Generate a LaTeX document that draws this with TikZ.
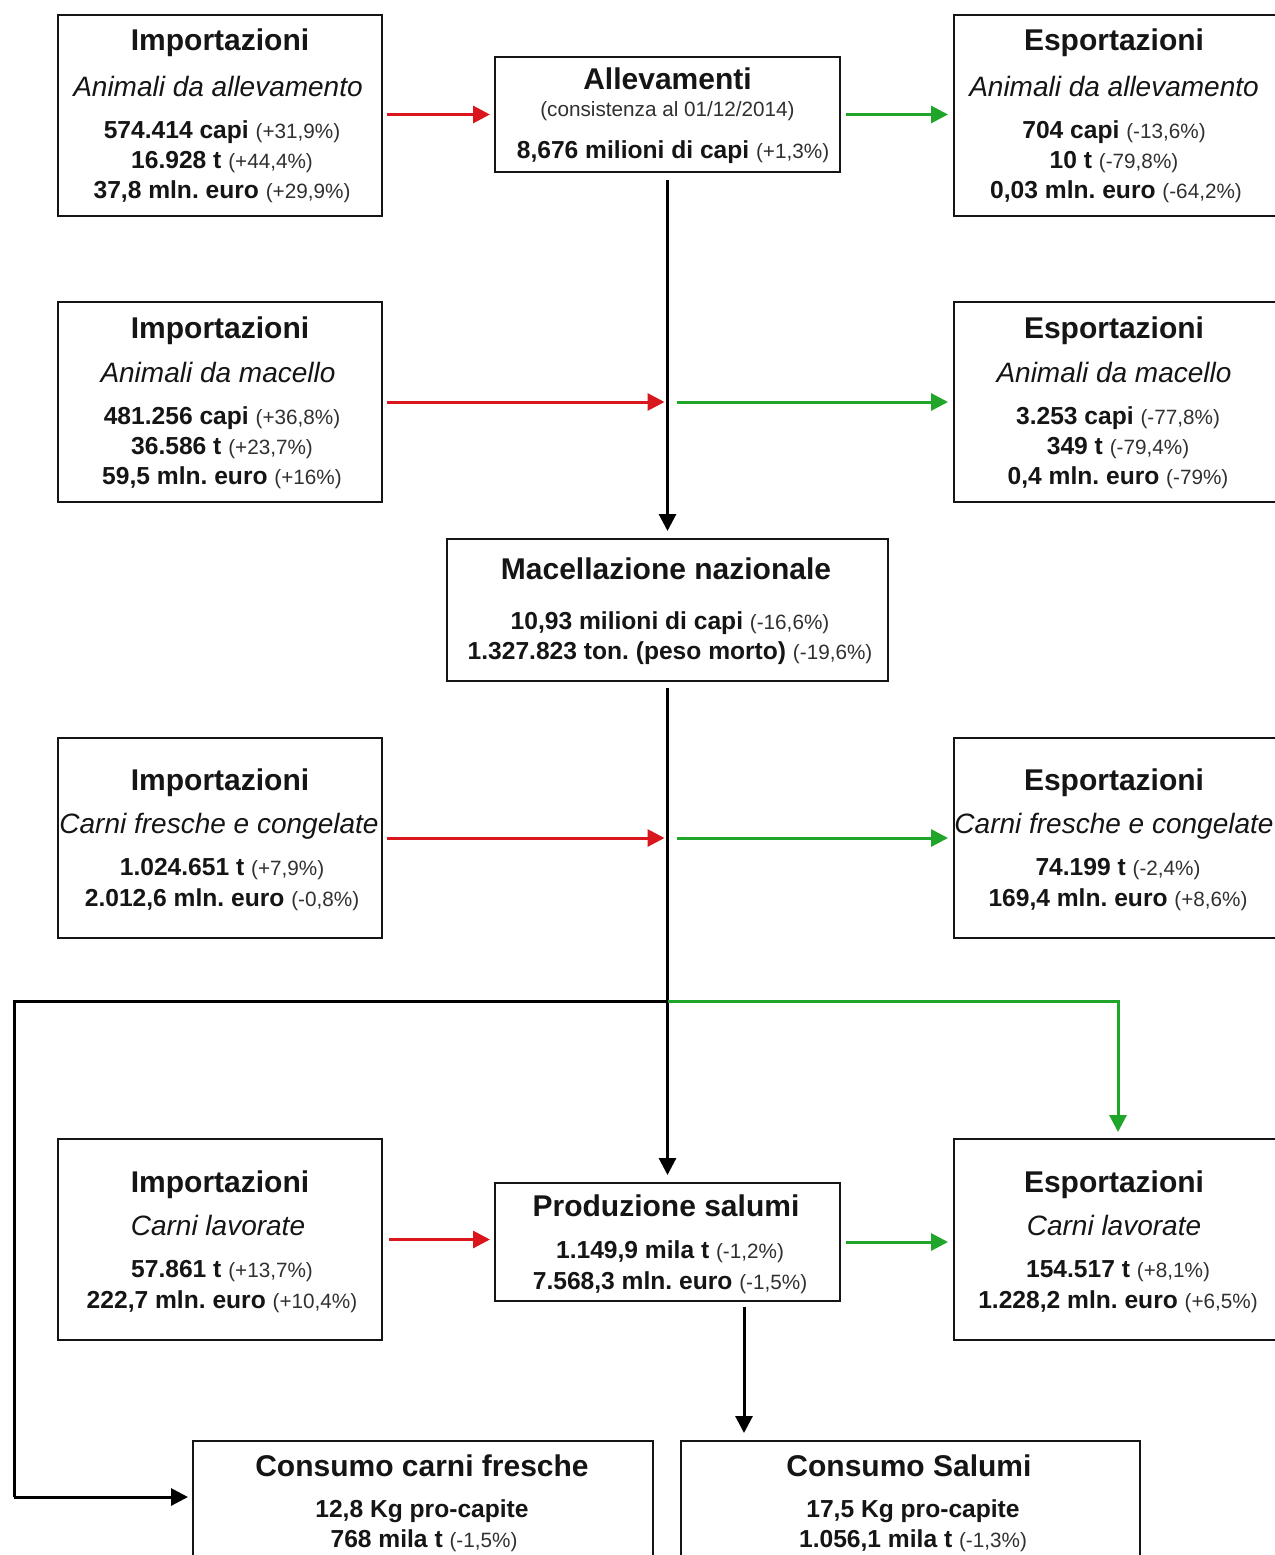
\documentclass[tikz,border=0pt]{standalone}
\usepackage{fontspec}
\setmainfont{Liberation Sans}
\usetikzlibrary{arrows.meta}
\definecolor{redA}{HTML}{D9161C}
\definecolor{greenA}{HTML}{1FA52A}
\definecolor{txtc}{HTML}{151515}
\definecolor{pctc}{HTML}{303030}
\newcommand\ttlf{\fontsize{30}{36}\selectfont\bfseries}
\newcommand\itlf{\fontsize{28}{34}\selectfont\itshape}
\newcommand\bnumf{\fontsize{24.6}{30}\selectfont\bfseries}
\newcommand\smallf{\fontsize{20.7}{25}\selectfont\mdseries}
\newcommand\pct[1]{{\smallf\color{pctc}#1}}
\frenchspacing
\begin{document}
\begin{tikzpicture}[x=1pt,y=-1pt,
  boxst/.style={draw=txtc, line width=2pt, fill=white, inner sep=0pt, outer sep=0pt},
  txt/.style={anchor=base, inner sep=0pt, outer sep=0pt, text=txtc, font=\frenchspacing},
  tipst/.style={-{Triangle[length=17pt,width=17pt]}},
  redarr/.style={draw=redA, line width=3pt, tipst},
  grnarr/.style={draw=greenA, line width=3pt, tipst},
  blkarr/.style={draw=black, line width=3pt, tipst},
  blkline/.style={draw=black, line width=3pt},
  grnline/.style={draw=greenA, line width=3pt}]
\path[use as bounding box, fill=white] (0,0) rectangle (1274,1555);

% boxes
\node[boxst, minimum width=324pt, minimum height=201pt] (impA) at (220,115.5) {};
\node[boxst, minimum width=345pt, minimum height=115pt] (alle) at (667.5,114.5) {};
\node[boxst, minimum width=324pt, minimum height=201pt] (espA) at (1116,115.5) {};
\node[boxst, minimum width=324pt, minimum height=200pt] (impM) at (220,402) {};
\node[boxst, minimum width=324pt, minimum height=200pt] (espM) at (1116,402) {};
\node[boxst, minimum width=441pt, minimum height=142pt] (mac) at (667.5,610) {};
\node[boxst, minimum width=324pt, minimum height=200pt] (impC) at (220,838) {};
\node[boxst, minimum width=324pt, minimum height=200pt] (espC) at (1116,838) {};
\node[boxst, minimum width=324pt, minimum height=201pt] (impL) at (220,1239.5) {};
\node[boxst, minimum width=345pt, minimum height=118pt] (prod) at (667.5,1242) {};
\node[boxst, minimum width=324pt, minimum height=201pt] (espL) at (1116,1239.5) {};
\node[boxst, minimum width=460pt, minimum height=130pt] (consF) at (423,1506) {};
\node[boxst, minimum width=459pt, minimum height=130pt] (consS) at (910.5,1506) {};

% texts: Importazioni animali da allevamento
\node[txt] (ia1) at (220,51) {\ttlf Importazioni};
\node[txt] (ia2) at (218,96) {\itlf Animali da allevamento};
\node[txt] (ia3) at (222,138) {\bnumf 574.414 capi \pct{(+31,9\%)}};
\node[txt] (ia4) at (222,168) {\bnumf 16.928 t \pct{(+44,4\%)}};
\node[txt] (ia5) at (222,198) {\bnumf 37,8 mln. euro \pct{(+29,9\%)}};
% Allevamenti
\node[txt] (al1) at (667.5,89) {\ttlf Allevamenti};
\node[txt] (al2) at (667.5,116) {\smallf\color{pctc}(consistenza al 01/12/2014)};
\node[txt] (al3) at (673,158) {\bnumf 8,676 milioni di capi \pct{(+1,3\%)}};
% Esportazioni animali da allevamento
\node[txt] (ea1) at (1114,51) {\ttlf Esportazioni};
\node[txt] (ea2) at (1114,96) {\itlf Animali da allevamento};
\node[txt] (ea3) at (1114,138) {\bnumf 704 capi \pct{(-13,6\%)}};
\node[txt] (ea4) at (1114,168) {\bnumf 10 t \pct{(-79,8\%)}};
\node[txt] (ea5) at (1116,198) {\bnumf 0,03 mln. euro \pct{(-64,2\%)}};
% Importazioni animali da macello
\node[txt] (im1) at (220,338) {\ttlf Importazioni};
\node[txt] (im2) at (218,382) {\itlf Animali da macello};
\node[txt] (im3) at (222,424) {\bnumf 481.256 capi \pct{(+36,8\%)}};
\node[txt] (im4) at (222,454) {\bnumf 36.586 t \pct{(+23,7\%)}};
\node[txt] (im5) at (222,484) {\bnumf 59,5 mln. euro \pct{(+16\%)}};
% Esportazioni animali da macello
\node[txt] (em1) at (1114,338) {\ttlf Esportazioni};
\node[txt] (em2) at (1114,382) {\itlf Animali da macello};
\node[txt] (em3) at (1118,424) {\bnumf 3.253 capi \pct{(-77,8\%)}};
\node[txt] (em4) at (1118,454) {\bnumf 349 t \pct{(-79,4\%)}};
\node[txt] (em5) at (1118,484) {\bnumf 0,4 mln. euro \pct{(-79\%)}};
% Macellazione
\node[txt] (ma1) at (666,579) {\ttlf Macellazione nazionale};
\node[txt] (ma2) at (670,629) {\bnumf 10,93 milioni di capi \pct{(-16,6\%)}};
\node[txt] (ma3) at (670,659) {\bnumf 1.327.823 ton. (peso morto) \pct{(-19,6\%)}};
% Importazioni carni fresche
\node[txt] (ic1) at (220,790) {\ttlf Importazioni};
\node[txt] (ic2) at (219,833) {\itlf Carni fresche e congelate};
\node[txt] (ic3) at (222,875) {\bnumf 1.024.651 t \pct{(+7,9\%)}};
\node[txt] (ic4) at (222,906) {\bnumf 2.012,6 mln. euro \pct{(-0,8\%)}};
% Esportazioni carni fresche
\node[txt] (ec1) at (1114,790) {\ttlf Esportazioni};
\node[txt] (ec2) at (1114,833) {\itlf Carni fresche e congelate};
\node[txt] (ec3) at (1118,875) {\bnumf 74.199 t \pct{(-2,4\%)}};
\node[txt] (ec4) at (1118,906) {\bnumf 169,4 mln. euro \pct{(+8,6\%)}};
% Importazioni carni lavorate
\node[txt] (il1) at (220,1192) {\ttlf Importazioni};
\node[txt] (il2) at (218,1235) {\itlf Carni lavorate};
\node[txt] (il3) at (222,1277) {\bnumf 57.861 t \pct{(+13,7\%)}};
\node[txt] (il4) at (222,1308) {\bnumf 222,7 mln. euro \pct{(+10,4\%)}};
% Produzione salumi
\node[txt] (pr1) at (666,1216) {\ttlf Produzione salumi};
\node[txt] (pr2) at (670,1258) {\bnumf 1.149,9 mila t \pct{(-1,2\%)}};
\node[txt] (pr3) at (670,1289) {\bnumf 7.568,3 mln. euro \pct{(-1,5\%)}};
% Esportazioni carni lavorate
\node[txt] (el1) at (1114,1192) {\ttlf Esportazioni};
\node[txt] (el2) at (1114,1235) {\itlf Carni lavorate};
\node[txt] (el3) at (1118,1277) {\bnumf 154.517 t \pct{(+8,1\%)}};
\node[txt] (el4) at (1118,1308) {\bnumf 1.228,2 mln. euro \pct{(+6,5\%)}};
% Consumi
\node[txt] (cf1) at (422,1476) {\ttlf Consumo carni fresche};
\node[txt] (cf2) at (422,1517) {\bnumf 12,8 Kg pro-capite};
\node[txt] (cf3) at (424,1547) {\bnumf 768 mila t \pct{(-1,5\%)}};
\node[txt] (cs1) at (909,1476) {\ttlf Consumo Salumi};
\node[txt] (cs2) at (913,1517) {\bnumf 17,5 Kg pro-capite};
\node[txt] (cs3) at (913,1547) {\bnumf 1.056,1 mila t \pct{(-1,3\%)}};

% connectors
\draw[redarr, shorten <=5pt, shorten >=5pt] (impA.east |- alle.west) -- (alle.west);
\draw[grnarr, shorten <=6pt, shorten >=6pt] (alle.east) -- (alle.east -| espA.west);
\draw[blkarr, shorten <=8pt, shorten >=8pt] (alle.south) -- (mac.north);
\draw[redarr, shorten <=5pt, shorten >=3pt] (impM.east) -- (alle.south |- impM.east);
\draw[grnarr, shorten <=9pt, shorten >=6pt] (alle.south |- espM.west) -- (espM.west);
\draw[blkarr, shorten <=7pt, shorten >=8pt] (mac.south) -- (prod.north);
\draw[redarr, shorten <=5pt, shorten >=3pt] (impC.east) -- (mac.south |- impC.east);
\draw[grnarr, shorten <=9pt, shorten >=6pt] (mac.south |- espC.west) -- (espC.west);
\coordinate (br) at (667.5,1001);
\coordinate (lc) at (14,1001);
\coordinate (cf) at (14,1497);
\draw[blkline, line join=miter] (br) -- (lc) -- (cf);
\draw[blkarr, shorten >=5pt] (cf) -- (cf -| consF.west);
\coordinate (gc) at (1118,1001);
\draw[grnarr, shorten >=7pt] (br) -- (gc) -- (gc |- espL.north);
\draw[redarr, shorten <=7pt, shorten >=5pt] (impL.east) -- (impL.east -| prod.west);
\draw[grnarr, shorten <=6pt, shorten >=6pt] (prod.east) -- (prod.east -| espL.west);
\coordinate (ps) at (744,1301);
\draw[blkarr, shorten <=6pt, shorten >=8pt] (ps) -- (ps |- consS.north);
\draw[blkline] (br) -- (mac.south |- br);
\end{tikzpicture}
\end{document}
